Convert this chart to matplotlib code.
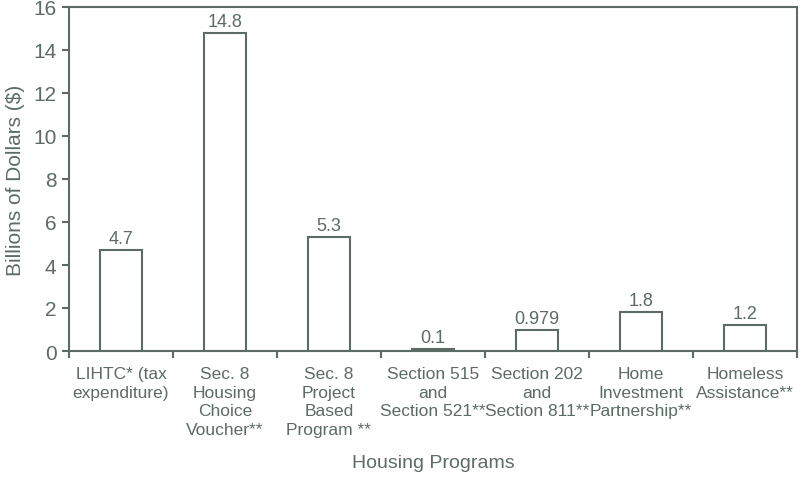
import matplotlib
matplotlib.use("Agg")
import matplotlib.pyplot as plt
import numpy as np

categories = [
    "LIHTC* (tax\nexpenditure)",
    "Sec. 8\nHousing\nChoice\nVoucher**",
    "Sec. 8\nProject\nBased\nProgram **",
    "Section 515\nand\nSection 521**",
    "Section 202\nand\nSection 811**",
    "Home\nInvestment\nPartnership**",
    "Homeless\nAssistance**",
]
values = [4.7, 14.8, 5.3, 0.1, 0.979, 1.8, 1.2]
value_labels = ["4.7", "14.8", "5.3", "0.1", "0.979", "1.8", "1.2"]
yticks = [0, 2, 4, 6, 8, 10, 12, 14, 16]

col = "#5c6b64"
plt.rcParams['font.family'] = ['Liberation Sans', 'DejaVu Sans']

fig = plt.figure(figsize=(8.03, 4.81), dpi=100)
ax = fig.add_axes([69/803, 1-352/481, (797-69)/803, (352-8)/481])

x = np.arange(len(values))
ax.bar(x, values, width=0.4, facecolor="white", edgecolor=col, linewidth=1.5)
for xi, v, lab in zip(x, values, value_labels):
    ax.text(xi, v + 0.15, lab, ha="center", va="bottom", fontsize=13, color=col)

ax.set_xlim(-0.5, len(values) - 0.5)
ax.set_ylim(0, 16)
ax.set_yticks(yticks)
ax.set_yticklabels([str(t) for t in yticks], fontsize=15, color=col)

# category boundary ticks
ax.set_xticks(np.arange(-0.5, len(values) + 0.5, 1.0))
ax.set_xticklabels([])
ax.tick_params(axis="x", which="major", direction="out", length=5, width=1.5, color=col)
ax.set_xticks(x, minor=True)
ax.set_xticklabels(categories, minor=True, fontsize=12.5, color=col, linespacing=1.3)
ax.tick_params(axis="x", which="minor", length=0, pad=11)
ax.tick_params(axis="y", direction="out", length=5, width=1.5, color=col, pad=4)

for s in ax.spines.values():
    s.set_color(col)
    s.set_linewidth(1.5)

ax.set_ylabel("Billions of Dollars ($)", fontsize=15, color=col, labelpad=6)
ax.set_xlabel("Housing Programs", fontsize=14, color=col, labelpad=12)

fig.savefig("out.png", dpi=100)
